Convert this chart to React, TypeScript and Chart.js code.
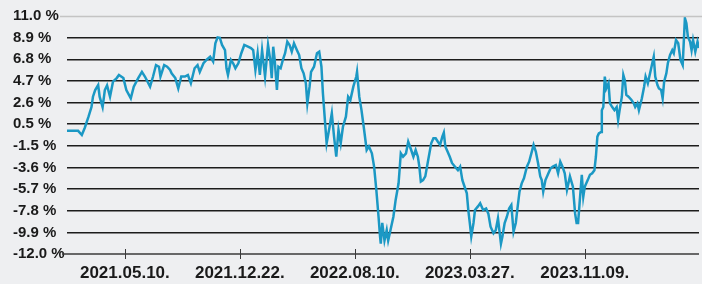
import React, { useEffect, useRef } from "react";
import { Chart, registerables } from "chart.js";

Chart.register(...registerables);

// trading-day index of each sample
const days = [
  0, 7, 15, 20, 24, 29, 33, 35, 38, 42, 44, 48, 51, 54, 58, 62, 67, 70, 76, 80,
  86, 90, 96, 101, 105, 112, 116, 120, 124, 126, 131, 135, 139, 141, 146, 150, 154, 159, 163, 167,
  172, 176, 179, 184, 188, 193, 197, 200, 203, 206, 209, 213, 215, 217, 221, 224, 227, 231, 235, 239,
  244, 248, 251, 254, 257, 260, 263, 267, 271, 274, 276, 278, 280, 283, 285, 288, 291, 294, 297, 300,
  303, 306, 310, 313, 316, 319, 322, 324, 327, 329, 333, 337, 340, 343, 345, 348, 350, 354, 357, 360,
  363, 366, 369, 372, 376, 379, 382, 386, 390, 391, 394, 397, 400, 404, 407, 411, 414, 417, 420, 422,
  423, 425, 428, 431, 433, 437, 440, 443, 447, 450, 453, 457, 460, 464, 467, 470, 473, 475, 477, 480,
  483, 487, 491, 494, 497, 500, 503, 506, 508, 510, 513, 516, 519, 523, 527, 530, 533, 536, 539, 541,
  543, 545, 548, 550, 554, 557, 561, 565, 568, 571, 575, 578, 581, 585, 587, 590, 593, 596, 599, 602,
  605, 607, 610, 613, 616, 620, 623, 626, 629, 632, 635, 638, 640, 642, 645, 649, 652, 655, 659, 662,
  665, 668, 671, 674, 678, 682, 685, 687, 689, 691, 694, 696, 698, 702, 705, 708, 711, 713, 715, 717,
  720, 721, 723, 725, 727, 730, 732, 735, 738, 741, 743, 745, 748, 750, 752, 754, 757, 761, 764, 766,
  769, 771, 775, 778, 780, 783, 787, 789, 791, 793, 796, 798, 801, 803, 805, 808, 810, 813, 816, 818,
  821, 824, 827, 830, 833, 835, 837, 840, 842, 844, 847, 850, 852,
];

// cumulative return, %
const returns = [
  -0.1, -0.1, -0.1, -0.5, 0.2, 1.27, 2.2, 3.2, 3.85, 4.33, 3.2, 2.2, 3.85, 4.3, 3.2, 4.65, 5.0, 5.3, 5.0, 3.85,
  3.05, 4.17, 5.0, 5.6, 5.15, 4.17, 5.15, 6.26, 6.1, 5.15, 6.26, 6.1, 5.78, 5.46, 5.0, 4.0, 5.15, 5.15, 5.3, 4.5,
  5.95, 6.26, 5.6, 6.43, 6.75, 7.07, 6.6, 8.36, 8.94, 8.9, 8.2, 7.7, 5.95, 5.3, 6.75, 6.43, 5.95, 6.43, 7.4, 8.2,
  8.03, 7.9, 7.7, 5.78, 7.4, 5.3, 7.7, 5.15, 8.2, 6.75, 5.0, 8.03, 6.75, 3.85, 6.1, 5.95, 6.75, 7.4, 8.52, 8.2,
  7.55, 8.36, 7.7, 7.23, 5.95, 5.46, 4.5, 2.56, 4.17, 5.6, 6.1, 7.4, 7.55, 6.1, 3.53, 0.63, -1.3, 0.3, 1.6, -0.66,
  -2.6, 0.0, -1.3, 0.3, 1.27, 3.2, 2.88, 4.17, 5.15, 5.6, 3.2, 1.9, 0.3, -1.95, -1.6, -2.27, -3.56, -5.8, -8.4, -10.3,
  -11.0, -9.0, -10.7, -9.7, -10.7, -9.4, -8.4, -6.8, -5.17, -2.27, -2.6, -2.27, -1.15, -1.95, -2.6, -1.95, -2.6, -3.56, -5.0, -4.86,
  -4.5, -2.9, -1.3, -0.82, -0.82, -1.15, -1.45, -0.66, -0.27, -1.6, -2.1, -2.6, -3.2, -3.56, -3.9, -3.56, -4.86, -5.5, -6.14, -7.75,
  -9.0, -10.3, -9.0, -7.75, -7.4, -7.1, -7.75, -7.6, -8.1, -9.36, -10.0, -9.7, -8.55, -11.0, -10.3, -9.0, -8.4, -7.6, -7.26, -9.84,
  -9.0, -7.75, -5.98, -5.17, -4.69, -3.56, -3.08, -2.27, -1.45, -2.1, -3.2, -4.5, -4.86, -5.98, -4.86, -4.2, -3.72, -3.56, -3.4, -4.2,
  -3.08, -3.56, -4.2, -5.8, -4.5, -5.5, -8.1, -9.0, -9.0, -7.1, -4.35, -6.46, -5.5, -4.86, -4.35, -4.2, -3.9, -2.6, -0.66, -0.35,
  -0.2, 1.9, 2.2, 5.15, 4.0, 4.5, 2.56, 2.2, 1.9, 2.2, 0.95, 1.9, 3.2, 5.3, 4.8, 3.37, 3.2, 2.88, 2.56, 2.2,
  2.56, 1.9, 3.05, 4.17, 5.15, 4.5, 5.78, 6.43, 7.07, 5.15, 4.33, 4.0, 3.85, 3.05, 4.65, 5.46, 6.43, 7.23, 7.7, 7.4,
  8.68, 8.36, 6.75, 6.26, 10.8, 10.3, 9.0, 8.52, 7.7, 8.68, 7.55, 8.52, 7.9,
];

const xTickDays = [78, 233, 388, 543, 698];
const xTickLabels = ["2021.05.10.", "2021.12.22.", "2022.08.10.", "2023.03.27.", "2023.11.09."];
const xMax = 852;

const yTickLabels = [
  "-12.0 %", "-9.9 %", "-7.8 %", "-5.7 %", "-3.6 %", "-1.5 %",
  "0.5 %", "2.6 %", "4.7 %", "6.8 %", "8.9 %", "11.0 %",
];
const yMin = -12;
const yMax = 11;

const FONT = "'Liberation Sans', Arial, sans-serif";

const decor = {
  id: "decor",
  afterDraw(chart: any) {
    const { ctx, chartArea, scales } = chart;
    const yTop = scales.y.getPixelForValue(yMax);
    const yBot = scales.y.getPixelForValue(yMin);
    ctx.save();
    ctx.strokeStyle = "#c4c4c4";
    ctx.lineWidth = 1.5;
    ctx.beginPath();
    ctx.moveTo(chartArea.left - 7, Math.round(yTop) + 0.5);
    ctx.lineTo(chart.width, Math.round(yTop) + 0.5);
    ctx.stroke();
    ctx.strokeStyle = "#3a3a3a";
    ctx.lineWidth = 1.5;
    ctx.beginPath();
    ctx.moveTo(chartArea.left - 5, yBot);
    ctx.lineTo(chartArea.right, yBot);
    ctx.stroke();
    ctx.lineWidth = 1;
    xTickDays.forEach((d) => {
      const x = Math.round(scales.x.getPixelForValue(d)) + 0.5;
      ctx.beginPath();
      ctx.moveTo(x, yBot - 5);
      ctx.lineTo(x, yBot + 5);
      ctx.stroke();
    });
    ctx.restore();
  },
};

export default function App() {
  const ref = useRef<HTMLCanvasElement | null>(null);

  useEffect(() => {
    if (!ref.current) return;
    const data = days.map((d, i) => ({ x: d, y: returns[i] }));
    const step = (yMax - yMin) / (yTickLabels.length - 1);
    const chart = new Chart(ref.current, {
      type: "line",
      data: {
        datasets: [
          {
            data,
            borderColor: "#1b98c4",
            borderWidth: 2.5,
            pointRadius: 0,
            tension: 0,
            fill: false,
          },
        ],
      },
      options: {
        animation: false,
        responsive: true,
        maintainAspectRatio: false,
        layout: { padding: { left: 13, right: 3, top: 16, bottom: 0 } },
        plugins: { legend: { display: false }, tooltip: { enabled: false } },
        scales: {
          x: {
            type: "linear",
            min: 0,
            max: xMax,
            afterBuildTicks: (s: any) => {
              s.ticks = xTickDays.map((v) => ({ value: v }));
            },
            afterFit: (s: any) => {
              s.height = 30;
            },
            grid: { display: false, drawTicks: false },
            border: { display: false },
            ticks: {
              autoSkip: false,
              maxRotation: 0,
              padding: 9,
              color: "#1a1a1a",
              font: { family: FONT, size: 17, weight: "bold" },
              callback: (v: any) => {
                const i = xTickDays.indexOf(Number(v));
                return i >= 0 ? xTickLabels[i] : "";
              },
            },
          },
          y: {
            min: yMin,
            max: yMax,
            afterBuildTicks: (s: any) => {
              s.ticks = yTickLabels.map((_, i) => ({ value: yMin + i * step }));
            },
            afterFit: (s: any) => {
              s.width = 54;
            },
            grid: {
              drawTicks: false,
              lineWidth: 1.5,
              color: (c: any) => {
                const idx = c.index;
                if (idx === yTickLabels.length - 1 || idx === 0) return "rgba(0,0,0,0)";
                return "#1c1c1c";
              },
            },
            border: { display: false },
            ticks: {
              crossAlign: "far",
              padding: 0,
              color: "#1a1a1a",
              font: { family: FONT, size: 15, weight: "bold" },
              callback: (_v: any, i: number) => yTickLabels[i],
            },
          },
        },
      },
      plugins: [decor],
    } as any);
    return () => chart.destroy();
  }, []);

  return (
    <div
      style={{
        position: "fixed",
        left: 0,
        top: 0,
        width: 702,
        height: 284,
        background: "#eeeff1",
      }}
    >
      <canvas ref={ref} />
    </div>
  );
}
